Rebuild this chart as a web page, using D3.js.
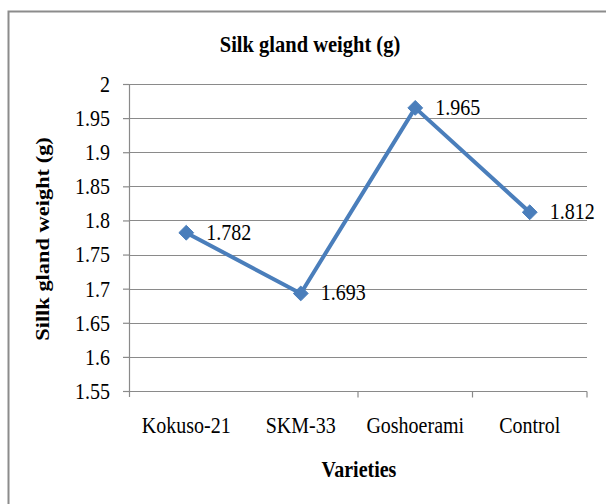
<!DOCTYPE html>
<html lang="en">
<head>
<meta charset="UTF-8">
<style>
    body { margin: 0; background: #fff; }
    svg text { font-family: "Liberation Serif", "Times New Roman", serif !important; fill: #000; }
</style>
</head>
<body>
<script src="https://d3js.org/d3.v7.min.js"></script>
<script>
// data
var varieties = ["Kokuso-21", "SKM-33", "Goshoerami", "Control"];
var weights = [1.782, 1.693, 1.965, 1.812];
var yTicks = [1.55, 1.6, 1.65, 1.7, 1.75, 1.8, 1.85, 1.9, 1.95, 2];

var width = 606, height = 504;
var plotLeft = 129, plotRight = 587, plotTop = 84, plotBottom = 391;
var stretch = 1.15;   // text in the figure looks a bit taller than normal

var svg = d3.select("body").append("svg")
    .attr("width", width)
    .attr("height", height);

// outer chart frame (only left and top edges are in view)
svg.append("path")
    .attr("d", "M8.5," + height + "V11.5H" + width)
    .attr("fill", "none")
    .attr("stroke", "#8c8c8c")
    .attr("stroke-width", 2);

var x = d3.scaleBand().domain(varieties).range([plotLeft, plotRight]);
var y = d3.scaleLinear().domain([1.55, 2]).range([plotBottom, plotTop]);

// gridlines
svg.append("g").selectAll("line")
    .data(yTicks.slice(1))
    .enter().append("line")
    .attr("x1", plotLeft).attr("x2", plotRight)
    .attr("y1", function(d) { return Math.round(y(d)) + 0.5; })
    .attr("y2", function(d) { return Math.round(y(d)) + 0.5; })
    .attr("stroke", "#8a8a8a")
    .attr("stroke-width", 1.2);

// y axis
var yAxis = svg.append("g")
    .attr("transform", "translate(" + plotLeft + ",0)")
    .call(d3.axisLeft(y).tickValues(yTicks).tickSize(6).tickPadding(13)
        .tickFormat(function(d) { return String(+d.toFixed(2)); }));
yAxis.attr("font-family", null);
yAxis.select(".domain").remove();
yAxis.selectAll(".tick line").attr("stroke", "#8a8a8a").attr("stroke-width", 1.2);
yAxis.selectAll(".tick text")
    .attr("font-size", 20)
    .attr("fill", "#000")
    .attr("transform", "scale(1," + stretch + ")");
yAxis.append("line")
    .attr("x1", 0.5).attr("x2", 0.5)
    .attr("y1", plotTop).attr("y2", plotBottom + 6)
    .attr("stroke", "#8a8a8a").attr("stroke-width", 1.2);

// x axis
var xAxis = svg.append("g").attr("transform", "translate(0," + (Math.round(plotBottom) + 0.5) + ")");
xAxis.append("line")
    .attr("x1", plotLeft).attr("x2", plotRight)
    .attr("stroke", "#8a8a8a").attr("stroke-width", 1.2);
xAxis.selectAll(".bt")
    .data(varieties.slice(1))
    .enter().append("line")
    .attr("x1", function(d) { return x(d) + x.bandwidth(); })
    .attr("x2", function(d) { return x(d) + x.bandwidth(); })
    .attr("y1", 0).attr("y2", 6)
    .attr("stroke", "#8a8a8a").attr("stroke-width", 1.2);
xAxis.selectAll("text")
    .data(varieties)
    .enter().append("text")
    .attr("text-anchor", "middle")
    .attr("font-size", 20)
    .attr("transform", function(d) {
        return "translate(" + (x(d) + x.bandwidth() / 2) + ",41) scale(1," + stretch + ")";
    })
    .text(function(d) { return d; });

// line + markers
var pts = varieties.map(function(v, i) { return [x(v) + x.bandwidth() / 2, y(weights[i])]; });
svg.append("path")
    .attr("d", d3.line()(pts))
    .attr("fill", "none")
    .attr("stroke", "#4a7ebb")
    .attr("stroke-width", 4)
    .attr("stroke-linejoin", "round");

svg.selectAll(".mk")
    .data(pts)
    .enter().append("path")
    .attr("transform", function(d) { return "translate(" + d[0] + "," + d[1] + ")"; })
    .attr("d", d3.symbol().type(d3.symbolDiamond2).size(140))
    .attr("fill", "#4a7ebb")
    .attr("stroke", "#4a7ebb")
    .attr("stroke-width", 1);

// data labels
svg.selectAll(".lbl")
    .data(weights)
    .enter().append("text")
    .attr("font-size", 20)
    .attr("transform", function(d, i) {
        return "translate(" + (pts[i][0] + 20) + "," + (pts[i][1] + 7) + ") scale(1," + stretch + ")";
    })
    .text(function(d) { return d.toFixed(3); });

// titles
svg.append("text")
    .attr("text-anchor", "middle")
    .attr("font-size", 20.5)
    .attr("font-weight", "bold")
    .attr("transform", "translate(310,52) scale(1," + stretch + ")")
    .text("Silk gland weight (g)");

svg.append("text")
    .attr("text-anchor", "middle")
    .attr("font-size", 20)
    .attr("font-weight", "bold")
    .attr("transform", "translate(359,477) scale(1," + stretch + ")")
    .text("Varieties");

svg.append("text")
    .attr("text-anchor", "middle")
    .attr("font-size", 19.5)
    .attr("font-weight", "bold")
    .attr("transform", "translate(49,239) rotate(-90) scale(" + stretch + ",1)")
    .text("Sillk gland weight (g)");
</script>
</body>
</html>
